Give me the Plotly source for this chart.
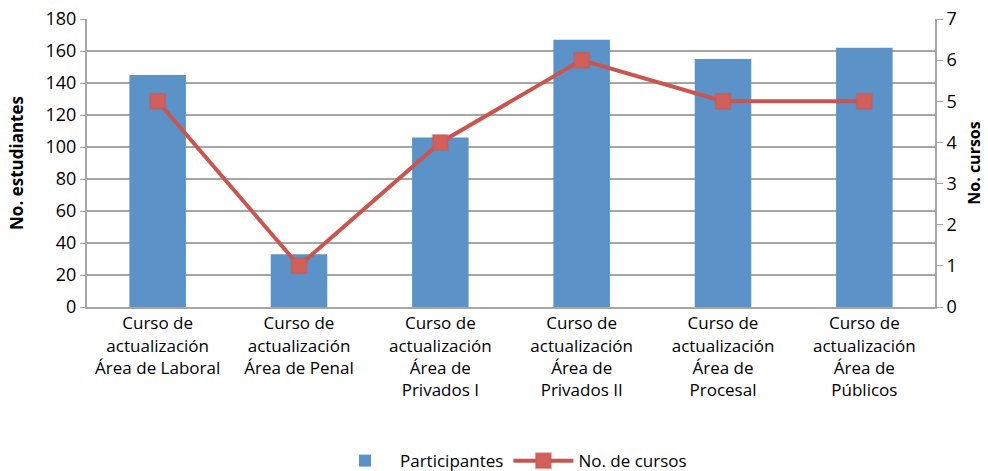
import plotly.graph_objects as go

# Data
categories = [
    "Curso de<br>actualización<br>Área de Laboral",
    "Curso de<br>actualización<br>Área de Penal",
    "Curso de<br>actualización<br>Área de<br>Privados I",
    "Curso de<br>actualización<br>Área de<br>Privados II",
    "Curso de<br>actualización<br>Área de<br>Procesal",
    "Curso de<br>actualización<br>Área de<br>Públicos",
]
participantes = [145, 33, 106, 167, 155, 162]
cursos = [5, 1, 4, 6, 5, 5]

BAR_COLOR = "#5B93C9"
LINE_COLOR = "#C9554F"
GRID = "#A6A6A6"
FONT = "Open Sans, Liberation Sans, sans-serif"

fig = go.Figure()

fig.add_trace(go.Bar(
    x=categories, y=participantes, name="Participantes",
    marker=dict(color=BAR_COLOR, line=dict(width=0)),
    width=0.4, yaxis="y",
))

fig.add_trace(go.Scatter(
    x=categories, y=cursos, name="No. de cursos", yaxis="y2",
    mode="lines+markers",
    line=dict(color=LINE_COLOR, width=4),
    marker=dict(symbol="square", size=15, color="#D0605B",
                line=dict(color="rgba(201,85,79,0.5)", width=2)),
))

fig.update_layout(
    width=988, height=471,
    paper_bgcolor="white", plot_bgcolor="white",
    font=dict(family=FONT, size=17, color="#000000"),
    margin=dict(l=87, r=53, t=19, b=164, autoexpand=False),
    bargap=0.6,
    xaxis=dict(
        showline=True, linecolor=GRID, linewidth=2,
        ticks="", tickfont=dict(size=17), automargin=False,
    ),
    yaxis=dict(
        range=[0, 180], dtick=20,
        showgrid=True, gridcolor=GRID, gridwidth=1.5,
        showline=True, linecolor=GRID, linewidth=2,
        ticks="outside", ticklen=5, tickcolor=GRID,
        zeroline=False, automargin=False, tickfont=dict(size=18),
        title=dict(text="<b>No. estudiantes</b>", font=dict(size=17), standoff=18),
    ),
    yaxis2=dict(
        range=[0, 7], dtick=1, overlaying="y", side="right",
        showgrid=False,
        showline=True, linecolor=GRID, linewidth=2,
        ticks="outside", ticklen=6, tickcolor=GRID,
        zeroline=False, automargin=False, tickfont=dict(size=18),
        title=dict(text="<b>No. cursos</b>", font=dict(size=16), standoff=13),
    ),
    legend=dict(
        orientation="h", x=0.5, xanchor="center", y=-0.535, yanchor="middle",
        font=dict(size=17), itemwidth=60,
    ),
)

# drop the page's default body margin so the figure sits at the top-left corner
fig.write_html("out.html", config={"displayModeBar": False},
               post_script="document.body.style.margin='0';")
